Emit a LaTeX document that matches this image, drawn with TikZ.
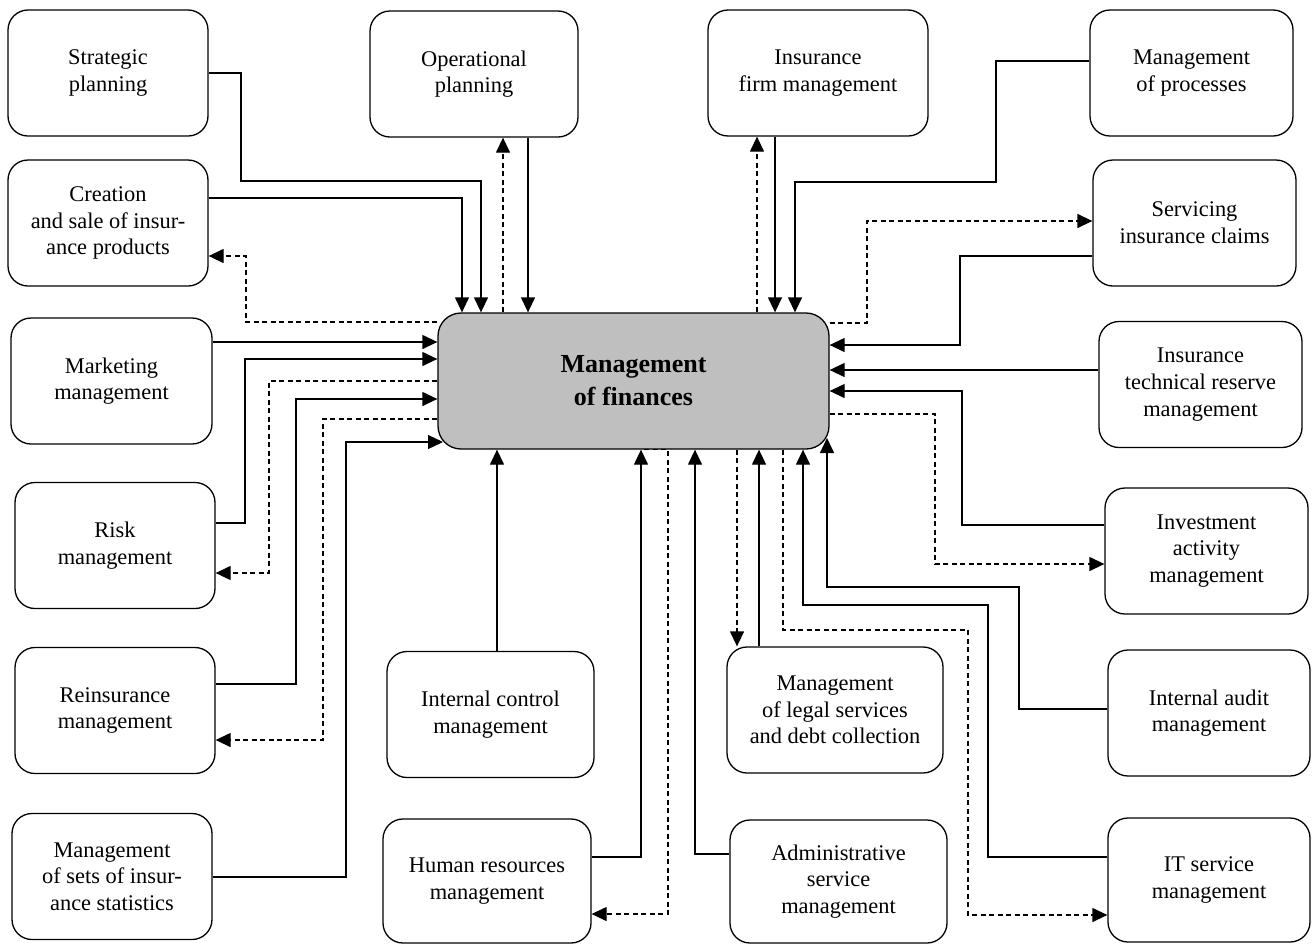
\documentclass[tikz,border=0pt]{standalone}
\usepackage{fontspec}
\setmainfont{Liberation Serif}
\usetikzlibrary{arrows.meta}

\begin{document}
\begin{tikzpicture}[x=1pt,y=-1pt,>={Triangle[length=15pt,width=14pt]},line width=1.3pt,
                    box node/.style={rectangle,draw,rounded corners=20pt,align=center,inner sep=0pt,
                      minimum height=126pt,font=\fontsize{22.4}{26.7}\selectfont},
                    main node/.style={box node,fill=gray!50,rounded corners=23pt,
                      font=\fontsize{26}{33}\selectfont\bfseries},
                    solid flow/.style={->},
                    dashed flow/.style={->,dash pattern=on 5pt off 3.5pt}]

  \useasboundingbox (0,0) rectangle (1312,943);

  \node[main node,minimum width=391pt,minimum height=136pt] (1) at (633.5,381) {Management\\of finances};

  \node[box node,minimum width=200pt] (2) at (108,73) {Strategic\\planning};
  \node[box node,minimum width=200pt] (3) at (108,223) {Creation\\and sale of insur-\\ance products};
  \node[box node,minimum width=201pt] (4) at (111.5,381) {Marketing\\management};
  \node[box node,minimum width=200pt] (5) at (115,545.5) {Risk\\management};
  \node[box node,minimum width=200pt] (6) at (115,710.5) {Reinsurance\\management};
  \node[box node,minimum width=200pt] (7) at (112,876.5) {Management\\of sets of insur-\\ance statistics};

  \node[box node,minimum width=208pt] (8) at (474,74) {Operational\\planning};
  \node[box node,minimum width=220pt] (9) at (818,73) {Insurance\\firm management};
  \node[box node,minimum width=203pt] (10) at (1191.5,73) {Management\\of processes};

  \node[box node,minimum width=203pt] (11) at (1194.5,223) {Servicing\\insurance claims};
  \node[box node,minimum width=203pt] (12) at (1200.5,384.5) {Insurance\\technical reserve\\management};
  \node[box node,minimum width=203pt] (13) at (1206.5,551) {Investment\\activity\\management};
  \node[box node,minimum width=202pt] (14) at (1209,713) {Internal audit\\management};
  \node[box node,minimum width=202pt,minimum height=124pt] (15) at (1209,880) {IT service\\management};

  \node[box node,minimum width=207pt] (16) at (490.5,714.5) {Internal control\\management};
  \node[box node,minimum width=208pt,minimum height=124pt] (17) at (487,881) {Human resources\\management};
  \node[box node,minimum width=216pt] (18) at (835,710) {Management\\of legal services\\and debt collection};
  \node[box node,minimum width=217pt,minimum height=123pt] (19) at (838.5,881.5) {Administrative\\service\\management};

  \draw[solid flow] (2.east) -| (241,181) -| (1.north -| 481,0);
  \draw[solid flow] (3.east |- 0,198) -| (1.north -| 462,0);
  \draw[dashed flow] (1.west |- 0,322) -| (246,256) -- (3.east |- 0,256);
  \path (8.south -| 528,0) edge[solid flow] (1.north -| 528,0)
        (1.north -| 503,0) edge[dashed flow] (8.south -| 503,0)
        (9.south -| 775,0) edge[solid flow] (1.north -| 775,0)
        (1.north -| 757,0) edge[dashed flow] (9.south -| 757,0);
  \draw[solid flow] (10.west |- 0,61) -| (996,182) -| (1.north -| 795,0);

  \draw[dashed flow] (1.east |- 0,323) -| (867,221) -- (11.west |- 0,221);
  \draw[solid flow] (11.west |- 0,256) -| (960,345) -- (1.east |- 0,345);
  \path (12.west |- 0,370) edge[solid flow] (1.east |- 0,370);
  \draw[solid flow] (13.west |- 0,525) -| (962,391) -- (1.east |- 0,391);
  \draw[dashed flow] (1.east |- 0,414) -| (935,564) -- (13.west |- 0,564);

  \draw[solid flow] (16.north -| 497,0) -- (1.south -| 497,0);
  \draw[solid flow] (17.east |- 0,857) -| (1.south -| 641,0);
  \draw[dashed flow] (1.south -| 644,0) -| (668,914) -- (17.east |- 0,914);
  \draw[solid flow] (19.west |- 0,854) -| (1.south -| 695,0);
  \draw[dashed flow] (1.south -| 737,0) -- (18.north -| 737,0);
  \draw[solid flow] (18.north -| 759,0) -- (1.south -| 759,0);
  \draw[dashed flow] (1.south -| 783,0) |- (968,630) |- (15.west |- 0,915);
  \draw[solid flow] (15.west |- 0,857) -| (988,605) -| (1.south -| 803,0);
  \draw[solid flow] (14.west |- 0,709) -| (1019,587) -| (827,438);

  \path (4.east |- 0,342) edge[solid flow] (1.west |- 0,342);
  \draw[solid flow] (5.east |- 0,523) -| (245,359) -- (1.west |- 0,359);
  \draw[dashed flow] (1.west |- 0,381) -| (269,573) -- (5.east |- 0,573);
  \draw[solid flow] (6.east |- 0,684) -| (296,399) -- (1.west |- 0,399);
  \draw[dashed flow] (1.west |- 0,419) -| (323,740) -- (6.east |- 0,740);
  \draw[solid flow] (7.east |- 0,877) -| (346,442) -- (443,442);

\end{tikzpicture}
\end{document}
